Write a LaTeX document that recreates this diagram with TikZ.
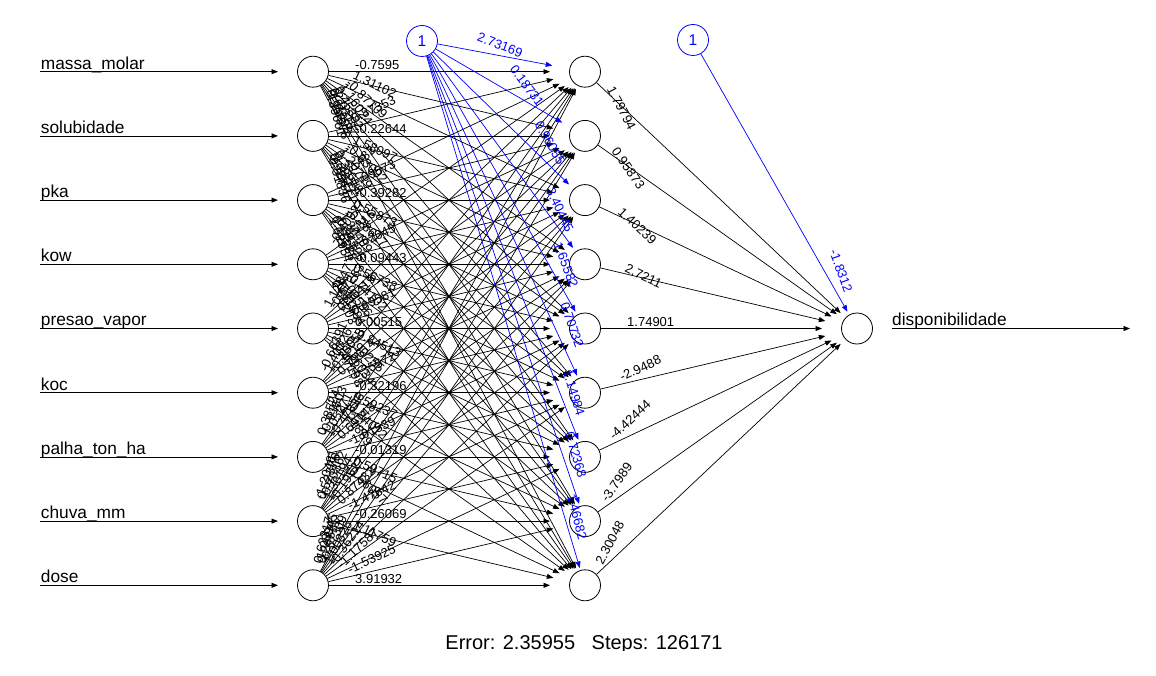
\documentclass[tikz,border=0pt]{standalone}
\usepackage{fontspec}
\setmainfont{Liberation Sans}
\usetikzlibrary{arrows.meta,calc}
\definecolor{rblue}{RGB}{0,0,255}
\begin{document}
\begin{tikzpicture}[x=1pt,y=-1pt,
  neuron/.style={circle,draw=black,line width=0.8pt,minimum size=31pt,inner sep=0pt,fill=white},
  biasnode/.style={neuron,draw=rblue,text=rblue,font=\fontsize{15.5}{15.5}\selectfont},
  syn/.style={draw=black,line width=0.7pt,-{Triangle[length=6.5pt,width=5pt]}},
  bsyn/.style={syn,draw=rblue},
  wlab/.style={font=\fontsize{13}{13}\selectfont,anchor=south west,inner xsep=0pt,inner ysep=1.8pt},
  blab/.style={font=\fontsize{13}{13}\selectfont,text=rblue,inner sep=0pt},
  namelab/.style={font=\fontsize{17.3}{17.3}\selectfont,anchor=base west,inner sep=0pt},
]
\useasboundingbox (0,0) rectangle (1156,676);
\fill[white] (0,0) rectangle (1156,676);

% nodes
\foreach \i in {1,...,9}{
  \node[neuron] (in\i) at (313,{71.7+(\i-1)*64.2}) {};
  \node[neuron] (h\i) at (585,{71.7+(\i-1)*64.2}) {};
}
\node[neuron] (out) at (857,328.5) {};
\node[biasnode] (b1) at (422,41) {1};
\node[biasnode] (b2) at (693,40) {1};

% input arrows and names
\foreach \i/\nm in {1/massa\_molar,2/solubidade,3/pka,4/kow,5/presao\_vapor,6/koc,7/palha\_ton\_ha,8/chuva\_mm,9/dose}{
  \coordinate (s\i) at (40,{71.7+(\i-1)*64.2});
  \draw[syn] (s\i) -- ($(in\i)+(-35,0)$);
  \node[namelab] (n\i) at ($(s\i)+(0.7,-2.6)$) {\nm};
}

% output arrow
\coordinate (oend) at (1130,328.5);
\draw[syn] ($(out)+(35,0)$) -- (oend);
\node[namelab] (outname) at ($(out)+(35,-2.6)$) {disponibilidade};

% input -> hidden
\foreach \i/\j/\w in {
1/1/-0.7595,1/2/1.31102,1/3/-0.87109,1/4/1.16024,1/5/0.45882,1/6/-2.03157,1/7/0.61093,1/8/-1.24578,1/9/0.39061,
2/1/-0.87353,2/2/-0.22644,2/3/1.58097,2/4/-0.63092,2/5/1.20749,2/6/0.33618,2/7/-1.48271,2/8/0.92755,2/9/-0.51836,
3/1/0.71482,3/2/-1.09573,3/3/-0.39282,3/4/0.55873,3/5/-0.28617,3/6/1.37409,3/7/-0.94326,3/8/0.16288,3/9/1.02954,
4/1/-0.40927,4/2/0.85316,4/3/-1.62045,4/4/-0.09443,4/5/0.56738,4/6/-0.74102,4/7/1.09596,4/8/-0.31584,4/9/0.68203,
5/1/1.12847,5/2/-0.57263,5/3/0.30419,5/4/-0.89581,5/5/0.00515,5/6/-0.84513,5/7/0.90255,5/8/-1.26034,5/9/0.47198,
6/1/-0.66391,6/2/1.40726,6/3/-0.23058,6/4/0.79614,6/5/-1.35572,6/6/-0.32196,6/7/0.59237,6/8/-0.84012,6/9/1.21869,
7/1/0.38524,7/2/-0.91603,7/3/1.05271,7/4/-0.47836,7/5/0.69148,7/6/-1.01539,7/7/-0.01319,7/8/0.59715,7/9/-0.66057,
8/1/-1.20481,8/2/0.52376,8/3/-0.70862,8/4/1.36194,8/5/-0.19527,8/6/0.87432,8/7/-1.47842,8/8/-0.26069,8/9/1.11759,
9/1/0.62317,9/2/-1.08945,9/3/0.24681,9/4/-0.57309,9/5/1.00826,9/6/-0.36214,9/7/-1.17587,9/8/-1.53925,9/9/3.91932}{
  \pgfmathsetmacro{\th}{atan2(2*(\j-\i)*64.2,272)}
  \draw[syn] (in\i) -- ($(h\j)+({-35*cos(\th)},{-17.5*sin(\th)})$);
  \node[wlab,rotate=-\th] (w\i-\j) at ($(in\i)+({42*cos(\th)},{21*sin(\th)})$) {\w};
}

% hidden -> output
\foreach \j/\w in {1/1.79794,2/0.95873,3/1.40239,4/2.7211,5/1.74901,6/-2.9488,7/-4.42444,8/-3.7989,9/2.30048}{
  \pgfmathsetmacro{\th}{atan2(2*(5-\j)*64.2,272)}
  \draw[syn] (h\j) -- ($(out)+({-35*cos(\th)},{-17.5*sin(\th)})$);
  \node[wlab,rotate=-\th] (v\j) at ($(h\j)+({42*cos(\th)},{21*sin(\th)})$) {\w};
}

% bias 1 -> hidden
\foreach \j in {1,...,9}{
  \pgfmathsetmacro{\th}{atan2(2*(71.7+(\j-1)*64.2-41),163)}
  \draw[bsyn] (b1) -- ($(h\j)+({-35*cos(\th)},{-17.5*sin(\th)})$);
}
\foreach \j/\px/\py/\rot/\w in {1/500/45/21/2.73169,2/527/86/53/0.18731,3/550/143/60/0.96055,4/560/210/65/3.40445,5/566/265/69/1.65582,6/572/325/71/0.70732,7/574/393/73/1.14984,8/576/455/74/0.72368,9/577/517/76/1.46682}{
  \node[blab,rotate=-\rot] (bl\j) at (\px,\py) {\w};
}

% bias 2 -> output
\pgfmathsetmacro{\tho}{atan2(2*(328.5-40),164)}
\draw[bsyn] (b2) -- ($(out)+({-35*cos(\tho)},{-17.5*sin(\tho)})$);
\node[blab,rotate=-70] (bo) at (841,271) {-1.8312};

% info text (clipped at bottom as in reference)
\begin{scope}
  \clip (0,0) rectangle (1156,650.3);
  \node[font=\fontsize{20}{20}\selectfont,anchor=base,inner sep=0pt] (info) at (584,649.5) {Error: 2.35955\hspace{11pt} Steps: 126171};
\end{scope}
\end{tikzpicture}
\end{document}
